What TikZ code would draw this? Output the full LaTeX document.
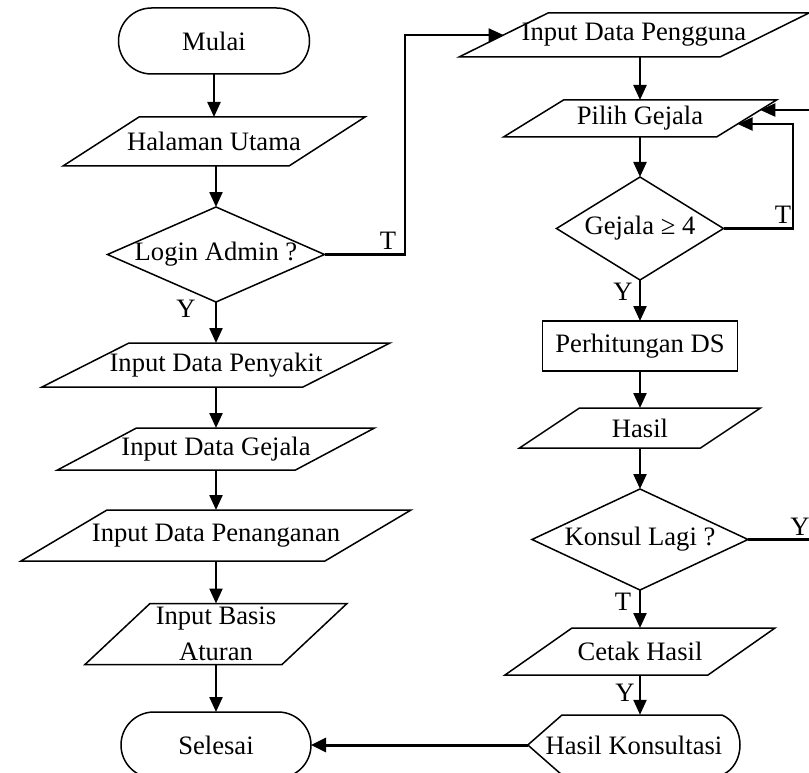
\documentclass[tikz,border=0pt]{standalone}
\usepackage{fontspec}
\setmainfont{Liberation Serif}
\usetikzlibrary{shapes.geometric,shapes.misc,arrows.meta,calc}
\tikzset{
  shp/.style={draw, line width=1.5pt, inner sep=0pt, outer sep=0pt},
  io/.style 2 args={rectangle, inner sep=0pt, outer sep=0pt, minimum width=#1, minimum height=#2},
  ioline/.style={line width=1.5pt, line join=miter},
  term/.style={shp, rounded rectangle, minimum height=66},
  dec/.style={shp, diamond},
  proc/.style={shp, rectangle},
  lbl/.style={inner sep=0pt},
  arr/.style={line width=2.3pt, -{Triangle[length=15pt,width=13pt]}},
}
% parallelogram outline round a named node: #1 node, #2 horizontal slant
\newcommand\ioshape[2]{%
  \draw[ioline] (#1.south west) -- ($(#1.north west)+(#2,0)$) -- (#1.north east)
    -- ($(#1.south east)-(#2,0)$) -- cycle;}
\begin{document}
\begin{tikzpicture}[x=1pt,y=-1pt,font=\fontsize{26.6}{36}\selectfont]
\useasboundingbox (0,0) rectangle (809,773);
\clip (0,0) rectangle (809,773);

% left column
\node[term, minimum width=191] (mulai) at (214,41) {Mulai};
\node[io={302}{49}] (halaman) at (214,141.5) {Halaman Utama};
\ioshape{halaman}{76}
\node[dec, minimum width=217, minimum height=95, label=center:{Login Admin ?}] (login) at (216,254.5) {};
\node[io={348}{44}] (penyakit) at (216,365) {Input Data Penyakit};
\ioshape{penyakit}{87}
\node[io={317}{42}] (igejala) at (216,449) {Input Data Gejala};
\ioshape{igejala}{79}
\node[io={390}{51}] (penanganan) at (216,535.5) {Input Data Penanganan};
\ioshape{penanganan}{86}
\node[io={262}{61}, align=center] (basis) at (216,634) {Input Basis\\Aturan};
\ioshape{basis}{65}
\node[term, minimum width=190] (selesai) at (216,745) {Selesai};

% right column
\node[io={350}{44}] (pengguna) at (634,35) {Input Data Pengguna};
\ioshape{pengguna}{89}
\node[io={273}{37}] (pilih) at (640,118.5) {Pilih Gejala};
\ioshape{pilih}{60}
\node[dec, minimum width=167, minimum height=103, label=center:{Gejala ≥ 4}] (gejala) at (640,228.5) {};
\node[proc, minimum width=195, minimum height=50] (ds) at (640,346) {Perhitungan DS};
\node[io={241}{40}] (hasil) at (640,428) {Hasil};
\ioshape{hasil}{60}
\node[dec, minimum width=216, minimum height=101, label=center:{Konsul Lagi ?}] (konsul) at (640,539.5) {};
\node[io={270}{47}] (cetak) at (640,651.5) {Cetak Hasil};
\ioshape{cetak}{67}
\node[inner sep=0pt, minimum width=212, minimum height=60] (hk) at (634,745) {Hasil Konsultasi};
\draw[ioline] (hk.west) -- (562,715) -- (722,715)
  .. controls (746,725) and (746,765) .. (722,775) -- (562,775) -- cycle;

% helper coordinates
\coordinate (cT1) at (405,254.5);
\coordinate (cT2) at (793,228.5);
\coordinate (cY) at (815,539.5);
\coordinate (penggunaIn) at ($(pengguna.west)+(44.5,0)$);
\coordinate (pilihInT) at ($(pilih.east)+(-38.9,5.5)$);
\coordinate (pilihInY) at ($(pilih.east)+(-16.2,-8.5)$);

% connectors
\draw[arr] (mulai) -- (halaman);
\draw[arr] (halaman.south -| login) -- (login);
\draw[arr] (login) -- (penyakit);
\draw[arr] (penyakit) -- (igejala);
\draw[arr] (igejala) -- (penanganan);
\draw[arr] (penanganan) -- (basis);
\draw[arr] (basis) -- (selesai);
\draw[arr] (login.east) -- (cT1) |- (penggunaIn);
\draw[arr] (pengguna.south -| pilih) -- (pilih);
\draw[arr] (pilih) -- (gejala);
\draw[arr] (gejala.east) -- (cT2) |- (pilihInT);
\draw[arr] (gejala) -- (ds);
\draw[arr] (ds) -- (hasil);
\draw[arr] (hasil) -- (konsul);
\draw[arr] (konsul.east) -- (cY) |- (pilihInY);
\draw[arr] (konsul) -- (cetak);
\draw[arr] (cetak.south) -- (cetak.south |- hk.north);
\draw[line width=3pt, -{Triangle[length=15pt,width=14pt]}] (hk.west) -- (selesai.east);

% branch labels
\node[lbl] (t1) at (388,241) {T};
\node[lbl] (y1) at (186,309) {Y};
\node[lbl] (t2) at (783,215) {T};
\node[lbl] (y2) at (623,292) {Y};
\node[lbl] (y3) at (800,527) {Y};
\node[lbl] (t3) at (623,602) {T};
\node[lbl] (y4) at (625,693) {Y};
\end{tikzpicture}
\end{document}
